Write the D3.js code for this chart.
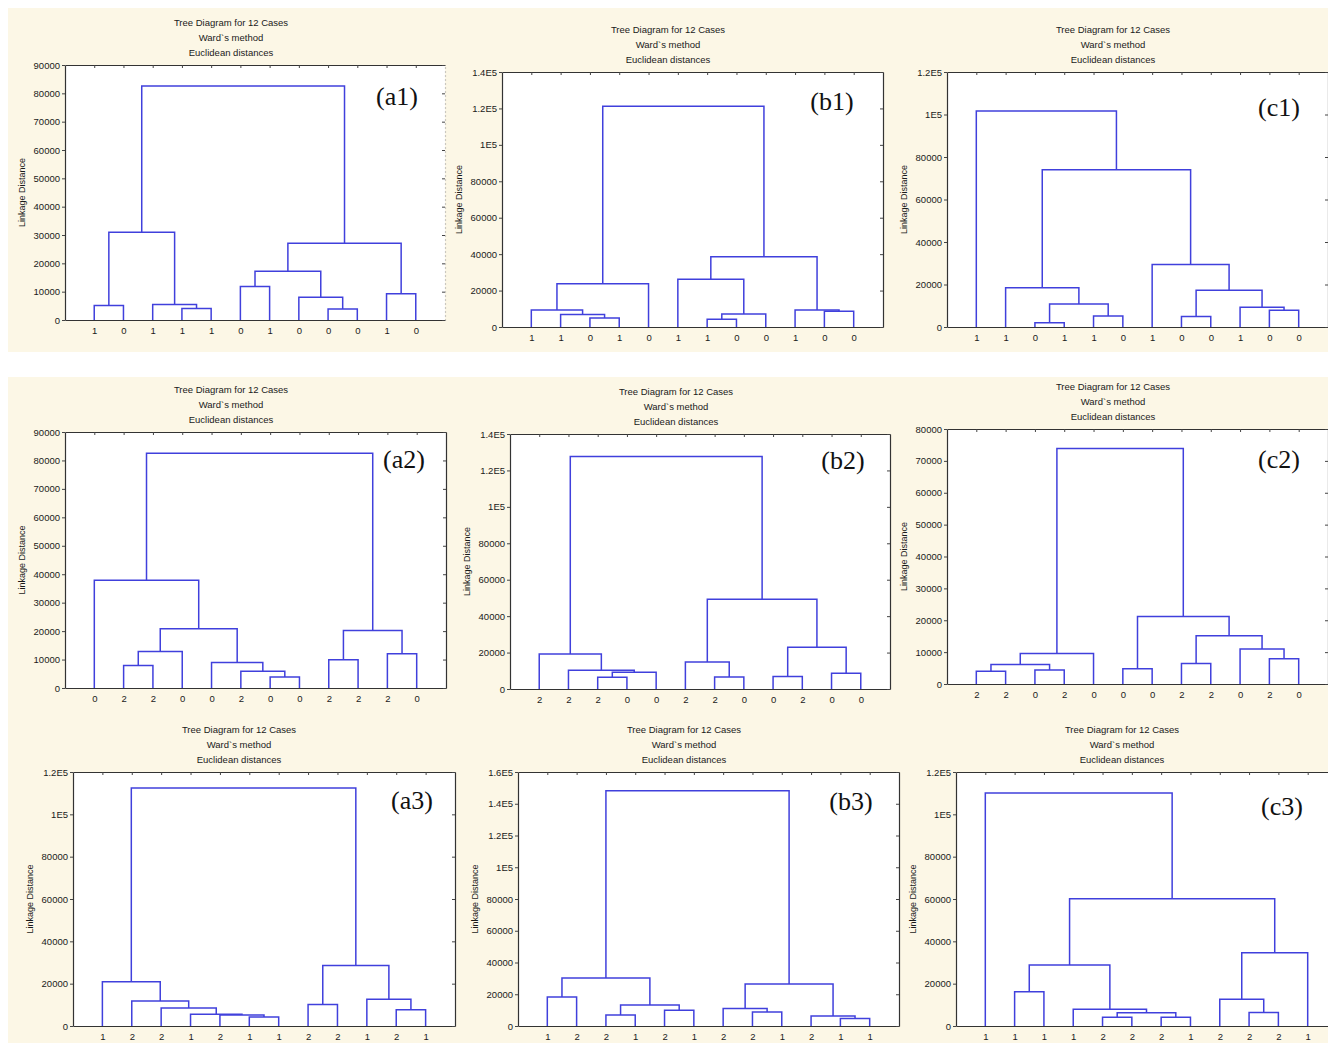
<!DOCTYPE html>
<html>
<head>
<meta charset="utf-8">
<script src="https://cdn.jsdelivr.net/npm/d3@7"></script>
<style>
  body { margin: 0; background: #fff; }
  svg { display: block; font-family: "Liberation Sans", Arial, sans-serif; }
</style>
</head>
<body>
<script>
// Leaf labels in display order, merges as [left node, right node, linkage distance].
// Nodes 0-11 are the leaves, node 12+k is the k-th merge.
var a1Leaves = [1, 0, 1, 1, 1, 0, 1, 0, 0, 0, 1, 0];
var a1Merges = [[0, 1, 5100], [3, 4, 4100], [2, 13, 5500], [12, 14, 31000], [5, 6, 11800], [8, 9, 3900],
                [7, 17, 8000], [16, 18, 17200], [10, 11, 9300], [19, 20, 27100], [15, 21, 82600]];

var b1Leaves = [1, 1, 0, 1, 0, 1, 1, 0, 0, 1, 0, 0];
var b1Merges = [[2, 3, 4900], [1, 12, 6800], [0, 13, 9300], [14, 4, 23800], [6, 7, 4200], [16, 8, 7100],
                [5, 17, 26200], [10, 11, 8600], [9, 19, 9300], [18, 20, 38600], [15, 21, 121200]];

var c1Leaves = [1, 1, 0, 1, 1, 0, 1, 0, 0, 1, 0, 0];
var c1Merges = [[2, 3, 2000], [4, 5, 5200], [12, 13, 10800], [1, 14, 18500], [7, 8, 4900], [10, 11, 7900],
                [9, 17, 9300], [16, 18, 17300], [6, 19, 29400], [15, 20, 74000], [0, 21, 101600]];

var a2Leaves = [0, 2, 2, 0, 0, 2, 0, 0, 2, 2, 2, 0];
var a2Merges = [[1, 2, 7900], [12, 3, 12800], [6, 7, 3900], [5, 14, 5900], [4, 15, 9000], [13, 16, 20800],
                [0, 17, 37900], [8, 9, 9900], [10, 11, 12000], [19, 20, 20200], [18, 21, 82500]];

var b2Leaves = [2, 2, 2, 0, 0, 2, 2, 0, 0, 2, 0, 0];
var b2Merges = [[2, 3, 6400], [12, 4, 9200], [1, 13, 10300], [0, 14, 19200], [6, 7, 6600], [5, 16, 14800],
                [8, 9, 6800], [10, 11, 8600], [18, 19, 22900], [17, 20, 49300], [15, 21, 127700]];

var c2Leaves = [2, 2, 0, 2, 0, 0, 0, 2, 2, 0, 2, 0];
var c2Merges = [[0, 1, 4000], [2, 3, 4400], [12, 13, 6100], [14, 4, 9600], [5, 6, 4800], [7, 8, 6400],
                [10, 11, 7900], [9, 18, 11000], [17, 19, 15100], [16, 20, 21200], [15, 21, 73900]];

var a3Leaves = [1, 2, 2, 1, 2, 1, 1, 2, 2, 1, 2, 1];
var a3Merges = [[5, 6, 4200], [4, 12, 5200], [3, 13, 5600], [2, 14, 8500], [1, 15, 11800], [0, 16, 20900],
                [7, 8, 10100], [10, 11, 7700], [9, 19, 12600], [18, 20, 28600], [17, 21, 112500]];

var b3Leaves = [1, 2, 2, 1, 2, 1, 2, 2, 1, 2, 1, 1];
var b3Merges = [[0, 1, 18200], [2, 3, 6900], [4, 5, 9900], [13, 14, 13200], [12, 15, 30200], [7, 8, 8800],
                [6, 17, 11100], [10, 11, 4800], [9, 19, 6300], [18, 20, 26400], [16, 21, 148200]];

var c3Leaves = [1, 1, 1, 1, 2, 2, 2, 1, 2, 2, 2, 1];
var c3Merges = [[1, 2, 16200], [4, 5, 4100], [6, 7, 4100], [13, 14, 6300], [3, 15, 7900], [12, 16, 28800],
                [9, 10, 6400], [8, 18, 12600], [19, 11, 34600], [17, 20, 60100], [0, 21, 110100]];

// y axis ticks and their labels
var ticks80 = [0, 10000, 20000, 30000, 40000, 50000, 60000, 70000, 80000];
var labels80 = ["0", "10000", "20000", "30000", "40000", "50000", "60000", "70000", "80000"];
var ticks90 = [0, 10000, 20000, 30000, 40000, 50000, 60000, 70000, 80000, 90000];
var labels90 = ["0", "10000", "20000", "30000", "40000", "50000", "60000", "70000", "80000", "90000"];
var ticks120 = [0, 20000, 40000, 60000, 80000, 100000, 120000];
var labels120 = ["0", "20000", "40000", "60000", "80000", "1E5", "1.2E5"];
var ticks140 = [0, 20000, 40000, 60000, 80000, 100000, 120000, 140000];
var labels140 = ["0", "20000", "40000", "60000", "80000", "1E5", "1.2E5", "1.4E5"];
var ticks160 = [0, 20000, 40000, 60000, 80000, 100000, 120000, 140000, 160000];
var labels160 = ["0", "20000", "40000", "60000", "80000", "1E5", "1.2E5", "1.4E5", "1.6E5"];

var titleLines = ["Tree Diagram for 12 Cases", "Ward`s method", "Euclidean distances"];
var yTitle = "Linkage Distance";

function init() {
    var W = 1328, H = 1043;
    var lineColor = "#4040dc";
    var cream = "#fcf7e6";

    // layout: frame = [left, right, top, bottom], tagPos = [x, baseline], bg = [x, y, w, h]
    var panels = [
        {tag: "(a1)", leaves: a1Leaves, merges: a1Merges, ticks: ticks90, labels: labels90,
         frame: [65, 445, 65, 320], tagPos: [397, 105], bg: [8, 8, 438, 344], dotted: true},
        {tag: "(b1)", leaves: b1Leaves, merges: b1Merges, ticks: ticks140, labels: labels140,
         frame: [502, 883, 72, 327], tagPos: [832, 110], bg: [446, 8, 442, 344]},
        {tag: "(c1)", leaves: c1Leaves, merges: c1Merges, ticks: ticks120, labels: labels120,
         frame: [947, 1328, 72, 327], tagPos: [1279, 116], bg: [888, 8, 440, 344]},
        {tag: "(a2)", leaves: a2Leaves, merges: a2Merges, ticks: ticks90, labels: labels90,
         frame: [65, 446, 432, 688], tagPos: [404, 468], bg: [8, 377, 438, 333]},
        {tag: "(b2)", leaves: b2Leaves, merges: b2Merges, ticks: ticks140, labels: labels140,
         frame: [510, 890, 434, 689], tagPos: [843, 469], bg: [446, 377, 442, 333]},
        {tag: "(c2)", leaves: c2Leaves, merges: c2Merges, ticks: ticks80, labels: labels80,
         frame: [947, 1328, 429, 684], tagPos: [1279, 468], bg: [888, 377, 440, 333]},
        {tag: "(a3)", leaves: a3Leaves, merges: a3Merges, ticks: ticks120, labels: labels120,
         frame: [73, 455, 772, 1026], tagPos: [412, 809], bg: [8, 710, 438, 333]},
        {tag: "(b3)", leaves: b3Leaves, merges: b3Merges, ticks: ticks160, labels: labels160,
         frame: [518, 899, 772, 1026], tagPos: [851, 810], bg: [446, 710, 442, 333]},
        {tag: "(c3)", leaves: c3Leaves, merges: c3Merges, ticks: ticks120, labels: labels120,
         frame: [956, 1337, 772, 1026], tagPos: [1282, 815], bg: [888, 710, 440, 333]}
    ];

    var svg = d3.select("body").append("svg")
        .attr("width", W)
        .attr("height", H);

    // cream backgrounds first, so overlapping frames stay visible
    svg.selectAll("rect.bg")
        .data(panels)
        .enter()
        .append("rect")
        .attr("class", "bg")
        .attr("x", function(d) { return d.bg[0]; })
        .attr("y", function(d) { return d.bg[1]; })
        .attr("width", function(d) { return d.bg[2]; })
        .attr("height", function(d) { return d.bg[3]; })
        .attr("fill", cream);

    panels.forEach(function(p) {
        var L = p.frame[0], R = p.frame[1], T = p.frame[2], B = p.frame[3];
        var g = svg.append("g");

        var x = d3.scaleLinear().domain([-1, 12]).range([L, R]);
        var y = d3.scaleLinear().domain([0, d3.max(p.ticks)]).range([B, T]);

        // plot area
        g.append("rect")
            .attr("x", L).attr("y", T)
            .attr("width", R - L).attr("height", B - T)
            .attr("fill", "#fff");

        // titles
        g.selectAll("text.title")
            .data(titleLines)
            .enter()
            .append("text")
            .attr("x", L + 166)
            .attr("y", function(d, i) { return T - 39.5 + i * 15; })
            .attr("text-anchor", "middle")
            .attr("font-size", "9.5px")
            .attr("fill", "#1a1a1a")
            .text(function(d) { return d; });

        // y axis title
        g.append("text")
            .attr("transform", "translate(" + (L - 40) + "," + ((T + B) / 2) + ") rotate(-90)")
            .attr("text-anchor", "middle")
            .attr("font-size", "9px")
            .attr("fill", "#1a1a1a")
            .text(yTitle);

        // dendrogram links
        var nodes = p.leaves.map(function(d, i) { return {x: i, h: 0}; });
        p.merges.forEach(function(m) {
            nodes.push({x: (nodes[m[0]].x + nodes[m[1]].x) / 2, h: m[2]});
        });

        g.selectAll("path.link")
            .data(p.merges)
            .enter()
            .append("path")
            .attr("class", "link")
            .attr("fill", "none")
            .attr("stroke", lineColor)
            .attr("stroke-width", 1.5)
            .attr("d", function(m) {
                var a = nodes[m[0]], b = nodes[m[1]];
                return "M" + x(a.x) + "," + y(a.h) +
                       "V" + y(m[2]) +
                       "H" + x(b.x) +
                       "V" + y(b.h);
            });

        // axes
        var yAxis = d3.axisLeft(y)
            .tickValues(p.ticks)
            .tickFormat(function(d, i) { return p.labels[i]; })
            .tickSize(3)
            .tickSizeOuter(0)
            .tickPadding(2);

        var xAxis = d3.axisBottom(x)
            .tickValues(d3.range(12))
            .tickFormat(function(i) { return p.leaves[i]; })
            .tickSize(0)
            .tickSizeOuter(0)
            .tickPadding(7.5);

        g.append("g")
            .attr("transform", "translate(" + L + ",0)")
            .call(yAxis);
        g.append("g")
            .attr("transform", "translate(0," + B + ")")
            .call(xAxis);

        g.append("g")
            .attr("transform", "translate(0," + T + ")")
            .call(d3.axisTop(x).tickValues(d3.range(12)).tickFormat("").tickSize(-3).tickSizeOuter(0));

        var gr = g.append("g")
            .attr("transform", "translate(" + R + ",0)")
            .call(d3.axisRight(y).tickValues(p.ticks).tickFormat("").tickSize(-3).tickSizeOuter(0));

        g.selectAll(".domain").attr("stroke", "#333").attr("stroke-width", 1.2);
        g.selectAll(".tick line").attr("stroke", "#444");
        g.selectAll(".tick text")
            .attr("font-size", "9.5px")
            .attr("font-family", "Liberation Sans, Arial, sans-serif")
            .attr("fill", "#1a1a1a");

        if (p.dotted) {
            gr.select(".domain")
                .attr("stroke", "#999")
                .attr("stroke-dasharray", "1,3");
        }

        // panel tag
        g.append("text")
            .attr("x", p.tagPos[0])
            .attr("y", p.tagPos[1])
            .attr("text-anchor", "middle")
            .attr("font-family", "Liberation Serif, Times New Roman, serif")
            .attr("font-size", "26px")
            .attr("fill", "#111")
            .text(p.tag);
    });
}

window.onload = init;
</script>
</body>
</html>
